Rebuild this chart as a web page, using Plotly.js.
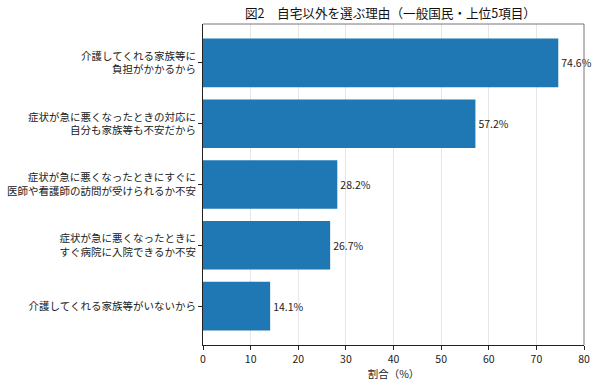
<!DOCTYPE html>
<html>
<head>
<meta charset="utf-8">
<script src="https://cdn.plot.ly/plotly-3.0.1.min.js"></script>
<style>html,body{margin:0;padding:0;background:#fff;}#chart{width:600px;height:386px;}</style>
</head>
<body>
<div id="chart"></div>
<script>
const categories = [
  "介護してくれる家族等に<br>負担がかかるから",
  "症状が急に悪くなったときの対応に<br>自分も家族等も不安だから",
  "症状が急に悪くなったときにすぐに<br>医師や看護師の訪問が受けられるか不安",
  "症状が急に悪くなったときに<br>すぐ病院に入院できるか不安",
  "介護してくれる家族等がいないから"
];
const values = [74.6, 57.2, 28.2, 26.7, 14.1];
const xTicks = [0, 10, 20, 30, 40, 50, 60, 70, 80];
const titleText = "図2　自宅以外を選ぶ理由（一般国民・上位5項目）";
const xTitle = "割合（%）";

const FONT = "Noto Sans CJK JP, Noto Sans, sans-serif";

const trace = {
  type: "bar",
  orientation: "h",
  x: values,
  y: categories,
  width: 0.8,
  marker: {color: "#1f77b4", line: {width: 0}},
  text: values.map(v => v.toFixed(1) + "%"),
  textposition: "outside",
  textfont: {family: FONT, size: 10.5, color: "#222"},
  cliponaxis: false,
  hoverinfo: "skip"
};

const layout = {
  width: 600, height: 386,
  margin: {l: 203, r: 16, t: 24, b: 41, pad: 0},
  paper_bgcolor: "#fff", plot_bgcolor: "#fff",
  font: {family: FONT, size: 10.5, color: "#222"},
  showlegend: false,
  bargap: 0.2,
  title: {text: titleText, font: {family: FONT, size: 12.6, color: "#111"},
          xref: "paper", x: 0.492, xanchor: "center", yref: "container", y: 0.965, yanchor: "middle"},
  xaxis: {
    range: [0, 80], tickvals: xTicks, ticktext: xTicks.map(String),
    showgrid: true, gridcolor: "rgba(200,200,200,0.45)", gridwidth: 1,
    zeroline: false, showline: true, linecolor: "#222", linewidth: 1,
    ticks: "outside", ticklen: 4, tickcolor: "#222", tickwidth: 1,
    tickfont: {family: FONT, size: 10.5, color: "#222"},
    title: {text: xTitle, font: {family: FONT, size: 10.5, color: "#222"}, standoff: 3},
    layer: "above traces", fixedrange: true
  },
  yaxis: {
    type: "category", categoryorder: "array", categoryarray: categories,
    range: [4.64, -0.64],
    showgrid: false, zeroline: false, showline: true, linecolor: "#222", linewidth: 1,
    ticks: "outside", ticklen: 4, tickcolor: "#222", tickwidth: 1,
    tickfont: {family: FONT, size: 10.5, color: "#222"},
    layer: "above traces", fixedrange: true
  },
  shapes: [
    {type: "line", xref: "paper", yref: "paper", x0: 0, x1: 1, y0: 1, y1: 1,
     line: {color: "#777", width: 1}},
    {type: "line", xref: "paper", yref: "paper", x0: 1, x1: 1, y0: 0, y1: 1,
     line: {color: "#777", width: 1}}
  ]
};

Plotly.newPlot("chart", [trace], layout, {displayModeBar: false, staticPlot: true});
</script>
</body>
</html>
